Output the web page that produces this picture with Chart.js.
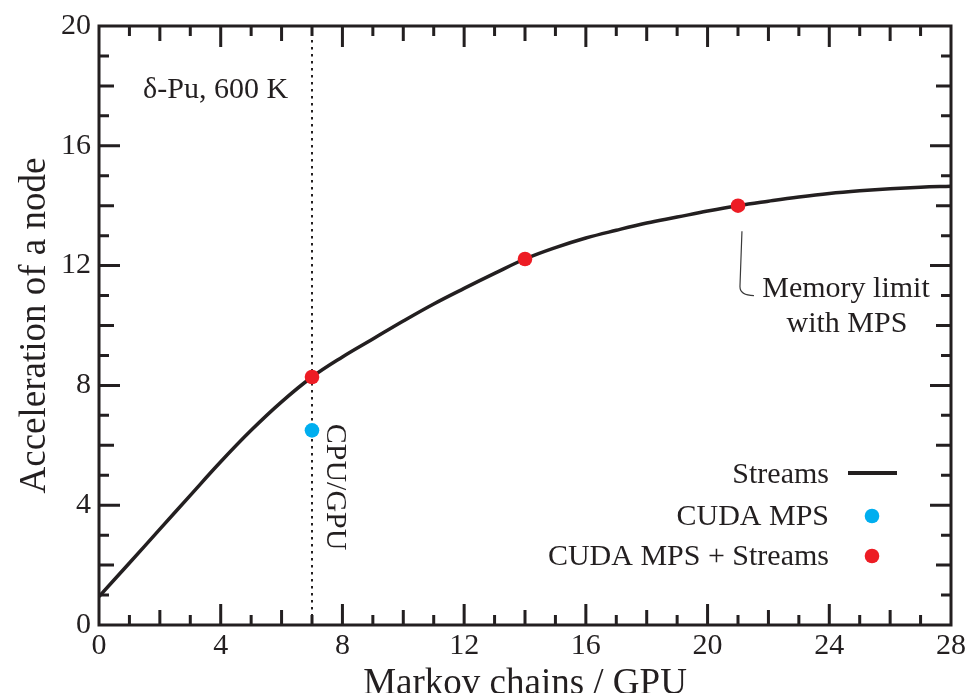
<!DOCTYPE html>
<html>
<head>
<meta charset="utf-8">
<script src="https://cdn.jsdelivr.net/npm/chart.js@4.4.1/dist/chart.umd.min.js"></script>
<style>
  html, body { margin: 0; padding: 0; background: #ffffff; }
  #wrap { width: 971px; height: 693px; }
</style>
</head>
<body>
<div id="wrap"><canvas id="chart" width="971" height="693"></canvas></div>
<script>
// Node acceleration vs. number of Markov chains per GPU (delta-Pu, 600 K)
const chainsPerGpu = [0, 1, 2, 3, 4, 5, 6, 7, 8, 9, 10, 11, 12, 13, 14,
                      15, 16, 17, 18, 19, 20, 21, 22, 23, 24, 25, 26, 27, 28];
const streamsAccel = [0.95, 2.07, 3.2, 4.33, 5.45, 6.5, 7.45, 8.28, 8.95, 9.55,
                      10.15, 10.72, 11.24, 11.74, 12.22, 12.6, 12.92, 13.18, 13.42, 13.62,
                      13.82, 14.0, 14.15, 14.29, 14.41, 14.5, 14.57, 14.62, 14.65];
const mpsChains = [7];
const mpsAccel = [6.5];
const mpsStreamsChains = [7, 14, 21];
const mpsStreamsAccel = [8.28, 12.22, 14.0];
const xTickValues = [0, 4, 8, 12, 16, 20, 24, 28];
const yTickValues = [0, 4, 8, 12, 16, 20];
const cpuGpuRatio = 7;

const INK = '#231f20';
const RED = '#ed1c24';
const BLUE = '#00aeef';
const SERIF = '"Liberation Serif", "Times New Roman", serif';

const toPoints = (xs, ys) => xs.map((x, i) => ({ x: x, y: ys[i] }));

// Frame with inward ticks on all four sides, plus the dotted CPU/GPU marker
const framePlugin = {
  id: 'frame',
  beforeDatasetsDraw(chart) {
    const { ctx, chartArea: a, scales: { x } } = chart;
    const px = x.getPixelForValue(cpuGpuRatio);
    ctx.save();
    ctx.strokeStyle = INK;
    ctx.lineWidth = 2;
    ctx.setLineDash([2.5, 4.5]);
    ctx.beginPath();
    ctx.moveTo(px, a.top);
    ctx.lineTo(px, a.bottom);
    ctx.stroke();
    ctx.restore();
  },
  afterDraw(chart) {
    const { ctx, chartArea: a, scales: { x, y } } = chart;
    const len = v => (v % 4 === 0 ? 21 : (v % 2 === 0 ? 15 : 10));
    ctx.save();
    ctx.strokeStyle = INK;
    ctx.lineWidth = 3;
    ctx.lineCap = 'butt';
    ctx.strokeRect(a.left, a.top, a.right - a.left, a.bottom - a.top);
    ctx.beginPath();
    for (let v = x.min + 1; v < x.max; v++) {
      const p = x.getPixelForValue(v);
      ctx.moveTo(p, a.bottom); ctx.lineTo(p, a.bottom - len(v));
      ctx.moveTo(p, a.top); ctx.lineTo(p, a.top + len(v));
    }
    for (let v = y.min + 1; v < y.max; v++) {
      const p = y.getPixelForValue(v);
      ctx.moveTo(a.left, p); ctx.lineTo(a.left + len(v), p);
      ctx.moveTo(a.right, p); ctx.lineTo(a.right - len(v), p);
    }
    ctx.stroke();
    ctx.restore();
  }
};

// Text annotations and the legend drawn inside the plot area
const notesPlugin = {
  id: 'notes',
  afterDraw(chart) {
    const { ctx, chartArea: a, scales: { x, y } } = chart;
    ctx.save();
    ctx.fillStyle = INK;
    ctx.font = '30px ' + SERIF;
    ctx.textBaseline = 'alphabetic';

    ctx.textAlign = 'left';
    ctx.fillText('\u03b4-Pu, 600 K', x.getPixelForValue(1.45), y.getPixelForValue(17.58));

    // rotated CPU/GPU label beside the dotted line
    ctx.save();
    ctx.translate(x.getPixelForValue(7.48), y.getPixelForValue(6.72));
    ctx.rotate(Math.PI / 2);
    ctx.textAlign = 'left';
    ctx.fillText('CPU/GPU', 0, 0);
    ctx.restore();

    // memory-limit callout with its leader line
    const lx = x.getPixelForValue(21.13);
    ctx.save();
    ctx.strokeStyle = '#3a3a3a';
    ctx.lineWidth = 1.2;
    ctx.beginPath();
    ctx.moveTo(lx, y.getPixelForValue(13.15));
    ctx.lineTo(lx - 2, y.getPixelForValue(11.3));
    ctx.quadraticCurveTo(lx - 2, y.getPixelForValue(11.0), lx + 12, y.getPixelForValue(11.0));
    ctx.stroke();
    ctx.restore();
    ctx.textAlign = 'center';
    ctx.fillText('Memory limit', x.getPixelForValue(24.55), y.getPixelForValue(10.96));
    ctx.fillText('with MPS', x.getPixelForValue(24.58), y.getPixelForValue(9.78));

    // legend: right-aligned labels with their symbols to the right
    const textRight = a.right - 122;
    const symX = a.right - 79;
    const rows = chart.data.datasets;
    const baselines = [a.bottom - 142, a.bottom - 100, a.bottom - 60];
    ctx.textAlign = 'right';
    rows.forEach((ds, i) => {
      const b = baselines[i];
      ctx.fillStyle = INK;
      ctx.fillText(ds.label, textRight, b);
      const cy = b - 10;
      if (ds.showLine) {
        ctx.strokeStyle = ds.borderColor;
        ctx.lineWidth = 4;
        ctx.beginPath();
        ctx.moveTo(symX - 24, cy);
        ctx.lineTo(symX + 25, cy);
        ctx.stroke();
      } else {
        ctx.fillStyle = ds.backgroundColor;
        ctx.beginPath();
        ctx.arc(symX, cy + 1, 7.3, 0, Math.PI * 2);
        ctx.fill();
      }
    });
    ctx.restore();
  }
};

new Chart(document.getElementById('chart'), {
  type: 'scatter',
  data: {
    datasets: [
      {
        label: 'Streams',
        data: toPoints(chainsPerGpu, streamsAccel),
        showLine: true,
        borderColor: INK,
        borderWidth: 3.5,
        pointRadius: 0,
        tension: 0.4,
        order: 3
      },
      {
        label: 'CUDA MPS',
        data: toPoints(mpsChains, mpsAccel),
        showLine: false,
        backgroundColor: BLUE,
        borderColor: BLUE,
        borderWidth: 0,
        pointRadius: 7.3,
        order: 2
      },
      {
        label: 'CUDA MPS + Streams',
        data: toPoints(mpsStreamsChains, mpsStreamsAccel),
        showLine: false,
        backgroundColor: RED,
        borderColor: RED,
        borderWidth: 0,
        pointRadius: 7.3,
        order: 1
      }
    ]
  },
  options: {
    responsive: false,
    devicePixelRatio: 1,
    animation: false,
    layout: { padding: { top: 24, right: 20, left: 0, bottom: 0 } },
    plugins: {
      legend: { display: false },
      tooltip: { enabled: false }
    },
    scales: {
      x: {
        type: 'linear',
        min: 0,
        max: 28,
        afterBuildTicks: s => { s.ticks = xTickValues.map(v => ({ value: v })); },
        afterFit: s => { s.height = 68; },
        grid: { display: false, drawTicks: false },
        border: { display: false },
        ticks: {
          padding: 3,
          color: INK,
          font: { family: SERIF, size: 30 },
          maxRotation: 0
        },
        title: {
          display: true,
          text: 'Markov chains / GPU',
          color: INK,
          font: { family: SERIF, size: 37 },
          padding: { top: 0, bottom: -13.5 }
        }
      },
      y: {
        type: 'linear',
        min: 0,
        max: 20,
        afterBuildTicks: s => { s.ticks = yTickValues.map(v => ({ value: v })); },
        afterFit: s => { s.width = 99; },
        grid: { display: false, drawTicks: false },
        border: { display: false },
        ticks: {
          padding: 8,
          color: INK,
          font: { family: SERIF, size: 30 }
        },
        title: {
          display: true,
          text: 'Acceleration of a node',
          color: INK,
          font: { family: SERIF, size: 37 },
          padding: { top: 13, bottom: 0 }
        }
      }
    }
  },
  plugins: [framePlugin, notesPlugin]
});
</script>
</body>
</html>
